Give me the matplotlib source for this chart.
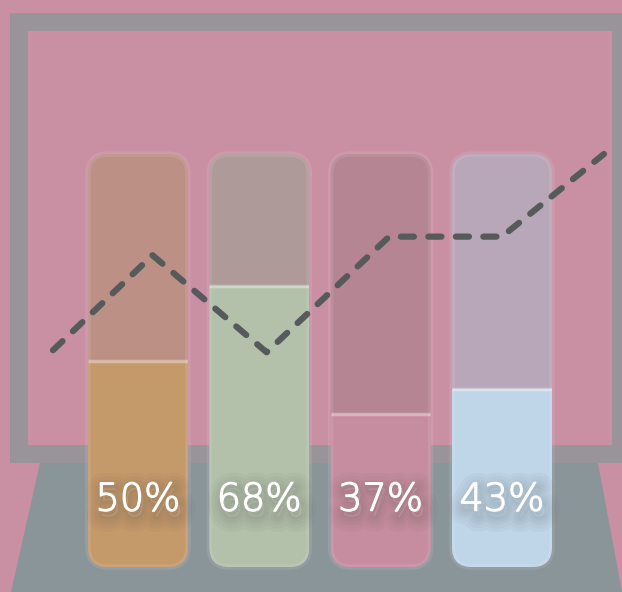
import matplotlib
matplotlib.use("Agg")
import matplotlib.pyplot as plt
import matplotlib.patheffects as pe
from matplotlib.patches import FancyBboxPatch, Rectangle, Polygon
from matplotlib.transforms import Affine2D

# data
categories = ["A", "B", "C", "D"]
values = [50, 68, 37, 43]
labels = ["50%", "68%", "37%", "43%"]
fill_colors = ["#C59A6B", "#B3C1AA", "#C68DA0", "#BFD6E8"]
track_colors = ["#BC9084", "#AE9A99", "#B58594", "#B8A7B8"]
trend_x = [-0.70, 0.12, 1.06, 2.07, 3.00, 3.84]
trend_y = [52.5, 75.5, 52, 80, 80, 100]

W, H = 622, 592
bg = "#C98FA3"

fig = plt.figure(figsize=(W / 100, H / 100), dpi=100, facecolor=bg)
ax = fig.add_axes([0, 0, 1, 1])
ax.set_facecolor(bg)
ax.set_xlim(-1.137, 3.989)
ax.set_ylim(-6.05, 137.3)
ax.axis("off")

# pixel transform (origin top-left) for the decorative board and floor
px = Affine2D().scale(1 / W, -1 / H).translate(0, 1) + fig.transFigure

# board frame: grey outer, pink inner
ax.add_patch(Rectangle((9.5, 13), 640, 450, facecolor="#999499",
                       edgecolor="none", transform=px, zorder=1, clip_on=False))
ax.add_patch(Rectangle((28, 31), 584, 414, facecolor=bg,
                       edgecolor="none", transform=px, zorder=1, clip_on=False))
# floor
ax.add_patch(Polygon([(40, 463), (598, 463), (622, 592), (11, 592)],
                     closed=True, facecolor="#8A959A", edgecolor="none",
                     transform=px, zorder=1, clip_on=False))

# bars
bw = 0.824
asp = (1 / 4.13) / (1 / 121.33)
r = 20 / 121.33
for i, v in enumerate(values):
    track = FancyBboxPatch((i - bw / 2, 0), bw, 100,
                           boxstyle=f"round,pad=0,rounding_size={r}",
                           mutation_aspect=asp, facecolor=track_colors[i],
                           edgecolor="none", zorder=2)
    ax.add_patch(track)
    b = ax.bar(i, v, width=bw, color=fill_colors[i], zorder=3)[0]
    b.set_clip_path(track)
    hl = ax.hlines(v, i - bw / 2, i + bw / 2, color="white", alpha=0.35,
                   linewidth=2.5, zorder=4)
    hl.set_clip_path(track)
    edge = FancyBboxPatch((i - bw / 2, 0), bw, 100,
                          boxstyle=f"round,pad=0,rounding_size={r}",
                          mutation_aspect=asp, facecolor="none",
                          edgecolor="white", alpha=0.09, linewidth=4, zorder=4)
    ax.add_patch(edge)

# trend line
ax.plot(trend_x, trend_y, color="#575A5A", linewidth=4.5, dashes=(2.1, 2.3),
        dash_capstyle="round", solid_capstyle="round", zorder=5)

# labels with soft shadow
shadow = [pe.Stroke(offset=(2, -4), linewidth=lw, foreground="#3a3a3a", alpha=0.035)
          for lw in (22, 17, 12, 8, 4)]
shadow.append(pe.Stroke(linewidth=0.9, foreground="white"))
shadow.append(pe.Normal())
for i, t in enumerate(labels):
    ax.text(i, 16.2, t, color="white", fontsize=27.5, ha="center", va="center",
            family="DejaVu Sans", fontweight="light", zorder=6,
            path_effects=shadow)

fig.savefig("out.png", dpi=100, facecolor=bg)
